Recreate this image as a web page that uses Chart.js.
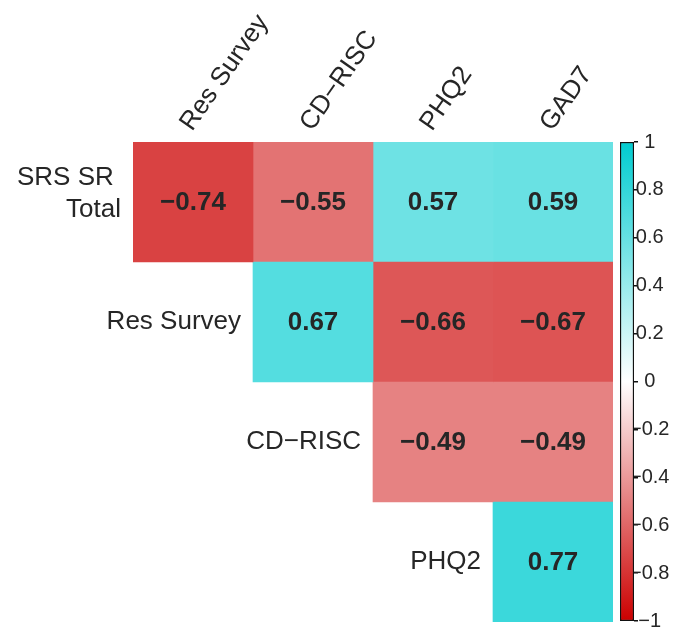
<!DOCTYPE html>
<html>
<head>
<meta charset="utf-8">
<script src="https://cdn.jsdelivr.net/npm/chart.js@4"></script>
<style>
  body { margin: 0; background: #fff; }
  #wrap { position: relative; width: 682px; height: 628px; }
  #heat { position: absolute; left: 0; top: 0; }
  #bar { position: absolute; left: 600px; top: 0; }
</style>
</head>
<body>
<div id="wrap">
  <canvas id="heat" width="620" height="628"></canvas>
  <canvas id="bar" width="82" height="628"></canvas>
</div>
<script>
// rows / columns of the upper triangle
var rowLabels = [['SRS SR ', 'Total'], 'Res Survey', 'CD\u2212RISC', 'PHQ2'];
var colLabels = ['Res Survey', 'CD\u2212RISC', 'PHQ2', 'GAD7'];

// correlations, one array per row (null = empty cell)
var srsTotal  = [-0.74, -0.55, 0.57, 0.59];
var resSurvey = [null, 0.67, -0.66, -0.67];
var cdRisc    = [null, null, -0.49, -0.49];
var phq2      = [null, null, null, 0.77];
var rows = [srsTotal, resSurvey, cdRisc, phq2];

var scaleTicks = [-1, -0.8, -0.6, -0.4, -0.2, 0, 0.2, 0.4, 0.6, 0.8, 1];

var FONT = '"Liberation Sans", Arial, sans-serif';
var TXT = '#262626';

function colorFor(v) {
    var r, g, b;
    if (v < 0) {
        var t = -v;
        r = 255 - t * 51; g = 255 - t * 255; b = 255 - t * 255;
    } else {
        r = 255 - v * 255; g = 255 - v * 51; b = 255 - v * 47;
    }
    return 'rgb(' + Math.round(r) + ',' + Math.round(g) + ',' + Math.round(b) + ')';
}

function fmt(v, digits) {
    var s = Math.abs(v).toFixed(digits);
    return (v < 0 ? '\u2212' : '') + s;
}

// one dataset per column, a floating bar spanning that column per row
var datasets = colLabels.map(function (name, c) {
    return {
        label: name,
        data: rows.map(function (row) { return row[c] == null ? null : [c, c + 1]; }),
        values: rows.map(function (row) { return row[c]; }),
        backgroundColor: rows.map(function (row) { return row[c] == null ? 'rgba(0,0,0,0)' : colorFor(row[c]); }),
        borderWidth: 0,
        barPercentage: 1,
        categoryPercentage: 1,
        grouped: false
    };
});

var cellText = {
    id: 'cellText',
    afterDatasetsDraw: function (chart) {
        var ctx = chart.ctx;
        var xs = chart.scales.x, ys = chart.scales.y;
        ctx.save();
        ctx.font = 'bold 26px ' + FONT;
        ctx.fillStyle = TXT;
        ctx.textAlign = 'center';
        ctx.textBaseline = 'middle';
        chart.data.datasets.forEach(function (ds, i) {
            chart.getDatasetMeta(i).data.forEach(function (el, j) {
                var v = ds.values[j];
                if (v == null) return;
                var p = el.getCenterPoint();
                ctx.fillText(fmt(v, 2), p.x, p.y + 1);
            });
        });
        // row labels sit left of the first cell in each row
        ctx.font = '26px ' + FONT;
        ctx.textAlign = 'right';
        rows.forEach(function (row, r) {
            var c0 = row.findIndex(function (v) { return v != null; });
            var x = xs.getPixelForValue(c0) - 12;
            var y = ys.getPixelForValue(r);
            var lines = [].concat(rowLabels[r]);
            var lh = 32;
            var y0 = y - (lines.length - 1) * lh / 2 - (lines.length > 1 ? 8 : 0);
            lines.forEach(function (t, k) { ctx.fillText(t, x, y0 + k * lh); });
        });
        // column labels, rotated, above the top of each column
        ctx.textAlign = 'left';
        ctx.textBaseline = 'alphabetic';
        colLabels.forEach(function (t, c) {
            var x = xs.getPixelForValue(c + 0.5) - 1;
            var y = chart.chartArea.top - 10;
            ctx.save();
            ctx.translate(x, y);
            ctx.rotate(-55 * Math.PI / 180);
            ctx.fillText(t, 0, 0);
            ctx.restore();
        });
        ctx.restore();
    }
};

new Chart(document.getElementById('heat'), {
    type: 'bar',
    data: { labels: rowLabels.map(function (l) { return [].concat(l).join(' '); }), datasets: datasets },
    options: {
        indexAxis: 'y',
        responsive: false,
        animation: false,
        layout: { padding: { left: 133, right: 7, bottom: 6, top: 142 } },
        plugins: { legend: { display: false }, tooltip: { enabled: false } },
        scales: {
            x: { type: 'linear', min: 0, max: 4, display: false },
            y: { type: 'category', display: false, offset: true }
        }
    },
    plugins: [cellText]
});

// colour bar
new Chart(document.getElementById('bar'), {
    type: 'bar',
    data: {
        labels: ['r'],
        datasets: [{
            data: [[-1, 1]],
            backgroundColor: function (ctx) {
                var chart = ctx.chart, ys = chart.scales.y;
                if (!ys || !chart.chartArea) return 'white';
                var g = chart.ctx.createLinearGradient(0, ys.getPixelForValue(-1), 0, ys.getPixelForValue(1));
                scaleTicks.forEach(function (v) { g.addColorStop((v + 1) / 2, colorFor(v)); });
                return g;
            },
            borderColor: '#111',
            borderWidth: 1.5,
            borderSkipped: false,
            barPercentage: 1,
            categoryPercentage: 1
        }]
    },
    options: {
        responsive: false,
        animation: false,
        layout: { padding: { left: 20, top: 142, bottom: 7, right: 0 } },
        plugins: { legend: { display: false }, tooltip: { enabled: false } },
        scales: {
            x: { display: false },
            y: {
                position: 'right',
                min: -1, max: 1,
                afterBuildTicks: function (s) { s.ticks = scaleTicks.map(function (v) { return { value: v }; }); },
                grid: { drawOnChartArea: false, tickLength: 4, color: '#111', lineWidth: 1.5 },
                border: { display: false },
                ticks: {
                    padding: -8,
                    crossAlign: 'center',
                    color: TXT,
                    font: { family: FONT, size: 20 },
                    callback: function (v) { return v === 0 ? '0' : fmt(v, Math.abs(v) === 1 ? 0 : 1); }
                },
                afterFit: function (s) { s.width = 48; }
            }
        }
    }
});
</script>
</body>
</html>
